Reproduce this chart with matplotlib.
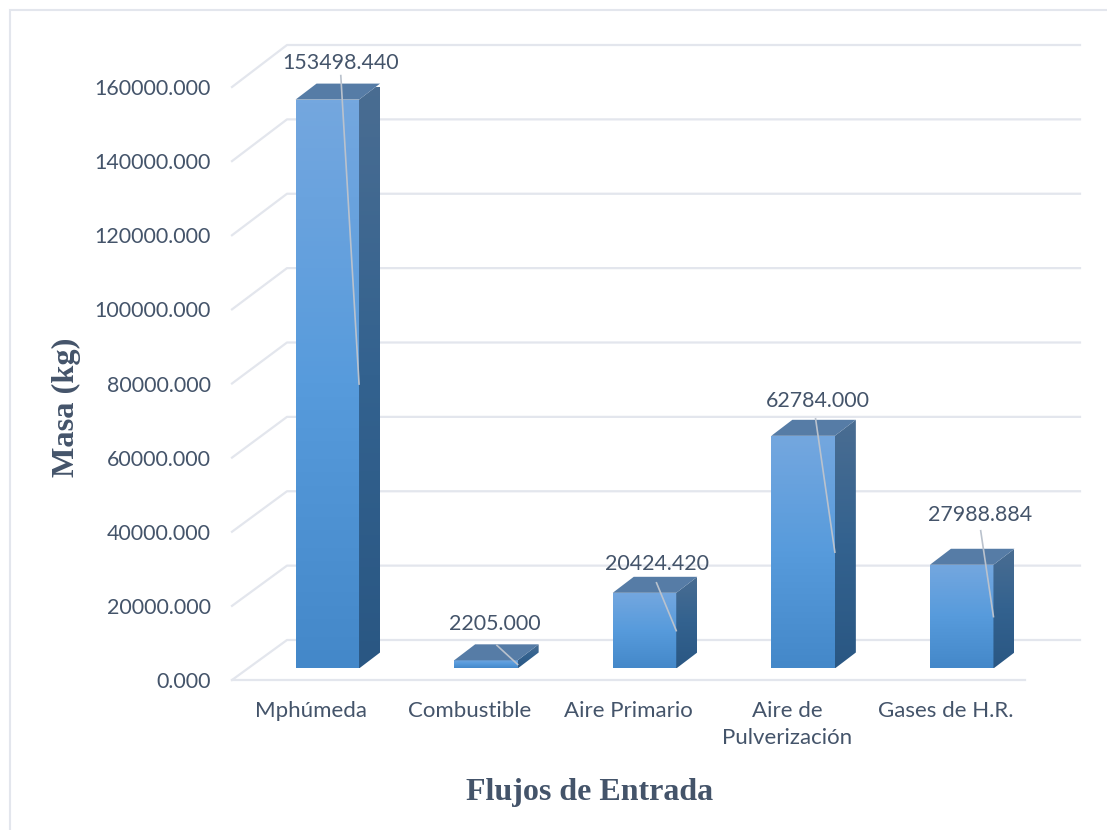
import numpy as np
import matplotlib
matplotlib.use("Agg")
import matplotlib.pyplot as plt
from matplotlib.colors import LinearSegmentedColormap
from matplotlib.patches import Polygon, Rectangle

categories = ["Mphúmeda", "Combustible", "Aire Primario", "Aire de\nPulverización", "Gases de H.R."]
masses = [153498.440, 2205.000, 20424.420, 62784.000, 27988.884]
value_labels = ["153498.440", "2205.000", "20424.420", "62784.000", "27988.884"]
y_ticks = [0, 20000, 40000, 60000, 80000, 100000, 120000, 140000, 160000]

W, H = 1107, 830
TEXT = "#44546A"
GRID = "#E3E6ED"
FONT = "Lato"

# pixel box of the front plane of the fake 3D chart
X0, X1 = 232, 1025
Y0, Y1 = 680, 87
px_x = 5.0 / (X1 - X0)        # one pixel in category units
px_y = 160000.0 / (Y0 - Y1)   # one pixel in value units

front = LinearSegmentedColormap.from_list("front", ["#4488C9", "#579BDC", "#74A7DF"])
side = LinearSegmentedColormap.from_list("side", ["#2A5783", "#33628F", "#4A6D92"])
grad = np.linspace(1, 0, 128).reshape(-1, 1)

fig = plt.figure(figsize=(W / 100, H / 100), dpi=100)
ax = fig.add_axes([X0 / W, 1 - Y0 / H, (X1 - X0) / W, (Y0 - Y1) / H])
ax.patch.set_visible(False)
for s in ax.spines.values():
    s.set_visible(False)

# outer chart frame
fig.add_artist(Rectangle((10 / W, -0.02), 1.02, 1.02 - 10 / H, transform=fig.transFigure,
                         fill=False, ec=GRID, lw=1.5))

# back wall, side wall and floor (back wall is a touch taller than the front plane)
wall_dx, wall_dy = 55 * px_x, 40 * px_y
wall_scale = 595.0 / 593.0
for v in y_ticks:
    back = v * wall_scale + wall_dy
    ax.plot([-0.5, -0.5 + wall_dx, 4.5 + wall_dx], [v, back, back],
            color=GRID, lw=1.6, clip_on=False, zorder=1)
ax.plot([-0.5, 4.5], [0, 0], color=GRID, lw=1.6, clip_on=False, zorder=1)

# bars, sitting a bit behind the front plane
off_x, off_y = 16 * px_x, 11.5 * px_y
bar_w = 63.5 * px_x
dep_x, dep_y = 21 * px_x, 16 * px_y
label_dy = [37, 36, 29, 35, 50]   # label centre above the bar top, px
label_dx = [13.5, 9, 12, 14.5, 18.5]   # label centre from bar centre, px
line_dx = [13.5, 11, 12, 12.5, 19]
line_dy = [24, 15, 10, 17, 34]

for i, m in enumerate(masses):
    x0 = i - bar_w / 2 + off_x
    x1 = x0 + bar_w
    b = off_y
    t = m + off_y
    im = ax.imshow(grad, cmap=front, extent=[x0, x1, b, t], aspect="auto", zorder=3,
                   vmin=0, vmax=1, clip_on=True)
    im.set_clip_path(Rectangle((x0, b), bar_w, m, transform=ax.transData))
    poly = Polygon([(x1, b), (x1 + dep_x, b + dep_y), (x1 + dep_x, t + dep_y), (x1, t)],
                   transform=ax.transData, fc="none", ec="none")
    ax.add_patch(poly)
    poly.set_clip_on(False)
    im2 = ax.imshow(grad, cmap=side, extent=[x1, x1 + dep_x, b, t + dep_y], aspect="auto",
                    zorder=3, vmin=0, vmax=1)
    im2.set_clip_path(poly)
    ax.add_patch(Polygon([(x0, t), (x0 + dep_x, t + dep_y), (x1 + dep_x, t + dep_y), (x1, t)],
                         fc="#567CA6", ec="none", zorder=3, clip_on=False))
    # data label and its leader line
    cx = i + off_x
    ax.text(cx + label_dx[i] * px_x, t + label_dy[i] * px_y, value_labels[i], ha="center",
            va="center", color=TEXT, fontsize=15.4, family=FONT, zorder=5)
    ax.plot([cx + line_dx[i] * px_x, x1], [t + line_dy[i] * px_y, b + m / 2],
            color="#BAC2CD", lw=1.2, zorder=4, clip_on=False)

ax.set_xlim(-0.5, 4.5)
ax.set_ylim(0, 160000)
ax.set_xticks(range(len(categories)))
ax.set_xticklabels(categories, color=TEXT, fontsize=16, family=FONT, linespacing=1.45)
ax.set_yticks(y_ticks)
ax.set_yticklabels([f"{v:.3f}" for v in y_ticks], color=TEXT, fontsize=15.4, family=FONT)
ax.tick_params(length=0, pad=15, axis="y")
ax.tick_params(length=0, pad=15, axis="x")

fig.text(66 / W, 1 - 407 / H, "Masa (kg)", rotation=90, ha="center", va="center", color=TEXT,
         fontsize=23.3, fontweight="bold", family="Liberation Serif")
fig.text(590 / W, 1 - 792.5 / H, "Flujos de Entrada", ha="center", va="center", color=TEXT,
         fontsize=23, fontweight="bold", family="Liberation Serif")

fig.savefig("out.png", dpi=100)
